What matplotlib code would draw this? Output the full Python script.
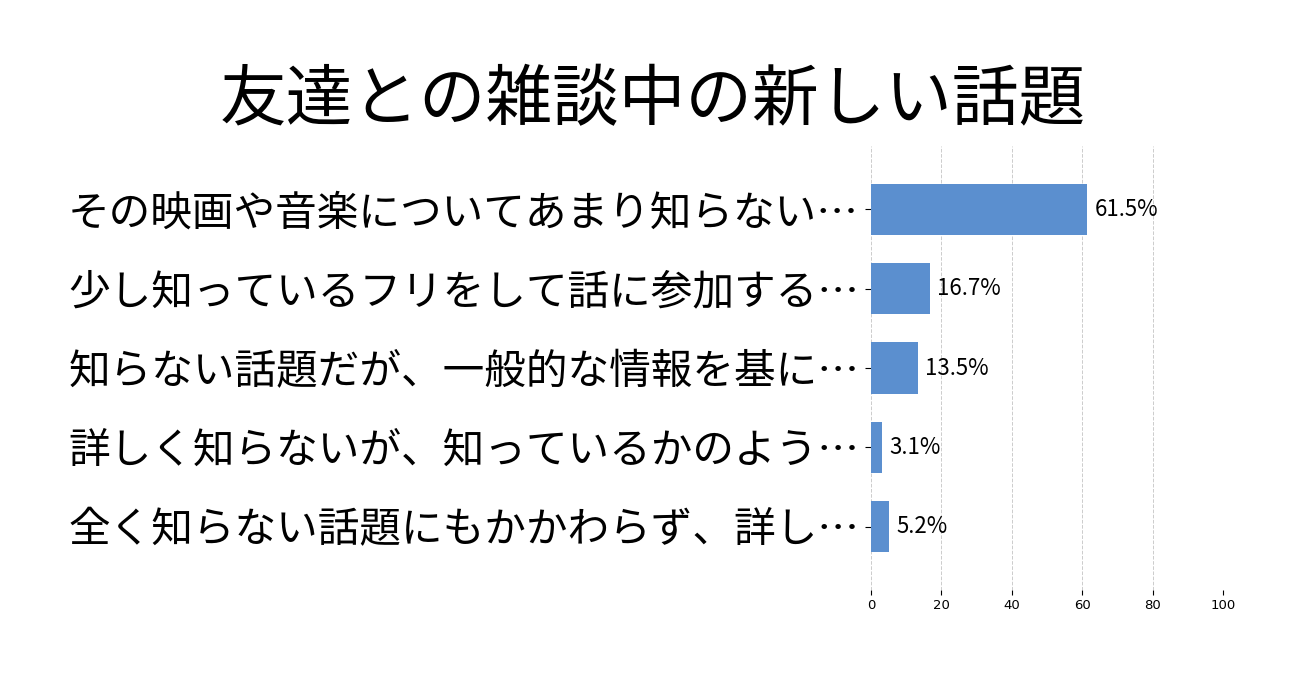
import matplotlib
matplotlib.use("Agg")
import matplotlib.pyplot as plt

plt.rcParams['font.family'] = ['Noto Sans CJK JP', 'DejaVu Sans']

title = "友達との雑談中の新しい話題"
categories = [
    "その映画や音楽についてあまり知らない…",
    "少し知っているフリをして話に参加する…",
    "知らない話題だが、一般的な情報を基に…",
    "詳しく知らないが、知っているかのよう…",
    "全く知らない話題にもかかわらず、詳し…",
]
values = [61.5, 16.7, 13.5, 3.1, 5.2]
xticks = [0, 20, 40, 60, 80, 100]

fig = plt.figure(figsize=(13.06, 6.83), dpi=100)
ax = fig.add_axes([0.6669, 0.1362, 0.2695, 0.65])

ypos = list(range(len(categories)))
ax.barh(ypos, values, height=0.65, color="#5b8fcf", zorder=2)

for y, v in zip(ypos, values):
    ax.annotate(f"{v}%", (v, y), xytext=(5, 0), textcoords="offset points",
                ha="left", va="center", fontsize=16)

ax.set_yticks(ypos)
ax.set_yticklabels(categories, fontsize=30)
ax.set_ylim(len(categories) - 0.2, -0.8)
ax.set_xlim(0, 100)
ax.set_xticks(xticks)
ax.set_xticklabels([str(t) for t in xticks], fontsize=9.5, family="DejaVu Sans")
ax.tick_params(axis="y", length=4, pad=4.5)
ax.tick_params(axis="x", length=3.5, pad=3)

ax.grid(axis="x", linestyle="--", color="#cccccc", linewidth=0.7, zorder=0)
ax.xaxis.get_gridlines()[-1].set_visible(False)
for s in ax.spines.values():
    s.set_visible(False)

fig.text(0.5, 0.851, title, ha="center", va="center", fontsize=48)

fig.savefig("out.png", dpi=100)
